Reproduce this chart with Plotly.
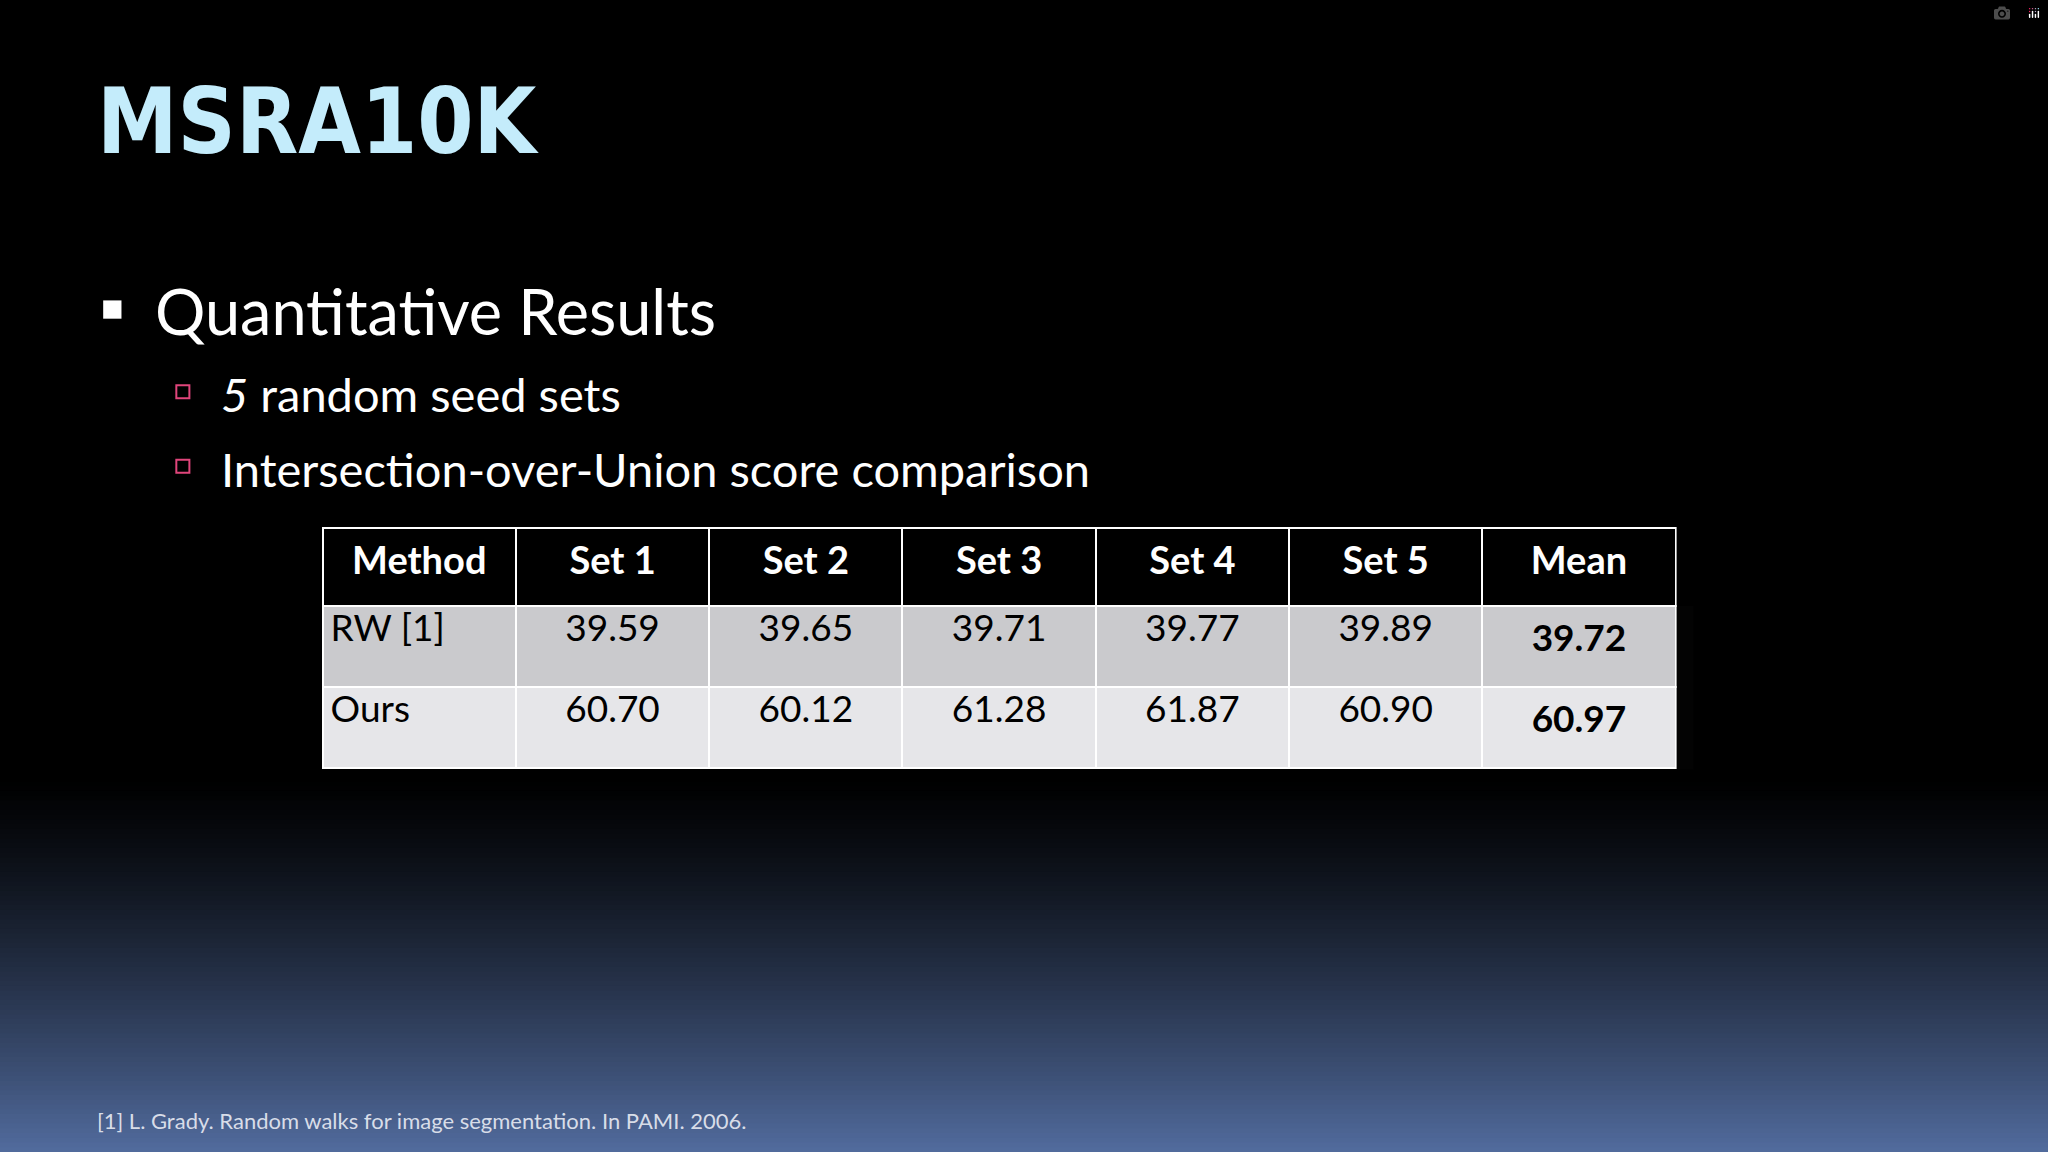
import plotly.graph_objects as go

W, H = 2048, 1152

title = "MSRA10K"
bullet = "Quantitative Results"
subbullets = ["<i>5</i> random seed sets", "Intersection-over-Union score comparison"]
columns = ["Method", "Set 1", "Set 2", "Set 3", "Set 4", "Set 5", "Mean"]
methods = ["RW [1]", "Ours"]
rw_scores = ["39.59", "39.65", "39.71", "39.77", "39.89"]
ours_scores = ["60.70", "60.12", "61.28", "61.87", "60.90"]
means = ["39.72", "60.97"]
footnote = "[1] L. Grady. Random walks for image segmentation. In PAMI. 2006."

font = "Lato, Open Sans, sans-serif"

def px(x): return x / 1568.0
def py(y): return 1 - y / 882.0

cells = [methods] + [[a, b] for a, b in zip(rw_scores, ours_scores)] + [["<b>%s</b>" % m for m in means]]

fig = go.Figure(go.Table(
    domain=dict(x=[px(247), px(1283)], y=[py(590), py(404)]),
    columnwidth=[1] * 7,
    header=dict(values=["<b>%s</b>" % c for c in columns],
                fill_color="black", line=dict(color="white", width=2),
                font=dict(color="white", size=38, family=font),
                align="center", height=78),
    cells=dict(values=cells,
               fill_color=[["#cacacd", "#e6e6e9"]] * 7,
               line=dict(color="white", width=2),
               font=dict(color="black", size=37, family=font),
               align=["left"] + ["center"] * 6, height=81),
))

shapes = []
N = 80
y0 = 0.33
top = (0, 0, 0)
bot = (82, 108, 158)
for i in range(N):
    a = y0 * i / N
    b = y0 * (i + 1) / N
    t = 1 - (a + b) / 2 / y0
    t = t ** 1.3
    c = tuple(int(top[k] + (bot[k] - top[k]) * t) for k in range(3))
    shapes.append(dict(type="rect", xref="paper", yref="paper", x0=0, x1=1, y0=a, y1=b + 0.002,
                       fillcolor="rgb(%d,%d,%d)" % c, line=dict(width=0), layer="below"))
shapes.append(dict(type="rect", xref="paper", yref="paper", x0=px(79), x1=px(93), y0=py(244), y1=py(230),
                   fillcolor="white", line=dict(width=0)))
for yc in [300, 357]:
    shapes.append(dict(type="rect", xref="paper", yref="paper", x0=px(135), x1=px(145), y0=py(yc + 5), y1=py(yc - 5),
                       fillcolor="rgba(0,0,0,0)", line=dict(color="#e0457b", width=2)))

ann = [
    dict(text="<b>%s</b>" % title, x=px(73), y=py(93), xanchor="left", yanchor="middle",
         font=dict(size=90, color="#c4ecfb", family="DejaVu Sans Condensed, Liberation Sans Narrow, sans-serif")),
    dict(text=bullet, x=px(117), y=py(238), xanchor="left", yanchor="middle",
         font=dict(size=63, color="white", family=font)),
    dict(text=footnote, x=px(73), y=py(858), xanchor="left", yanchor="middle",
         font=dict(size=22, color="#d8dde8", family=font)),
]
for s, yc in zip(subbullets, [302, 359]):
    ann.append(dict(text=s, x=px(168), y=py(yc), xanchor="left", yanchor="middle",
                    font=dict(size=47, color="white", family=font)))
for a in ann:
    a.update(xref="paper", yref="paper", showarrow=False)

fig.update_layout(width=W, height=H, margin=dict(l=0, r=0, t=0, b=0),
                  paper_bgcolor="black", plot_bgcolor="black",
                  xaxis=dict(visible=False), yaxis=dict(visible=False),
                  shapes=shapes, annotations=ann, showlegend=False)
fig.write_html("out.html",
               post_script="document.body.style.margin='0';document.body.style.background='black';document.body.style.overflow='hidden';")
